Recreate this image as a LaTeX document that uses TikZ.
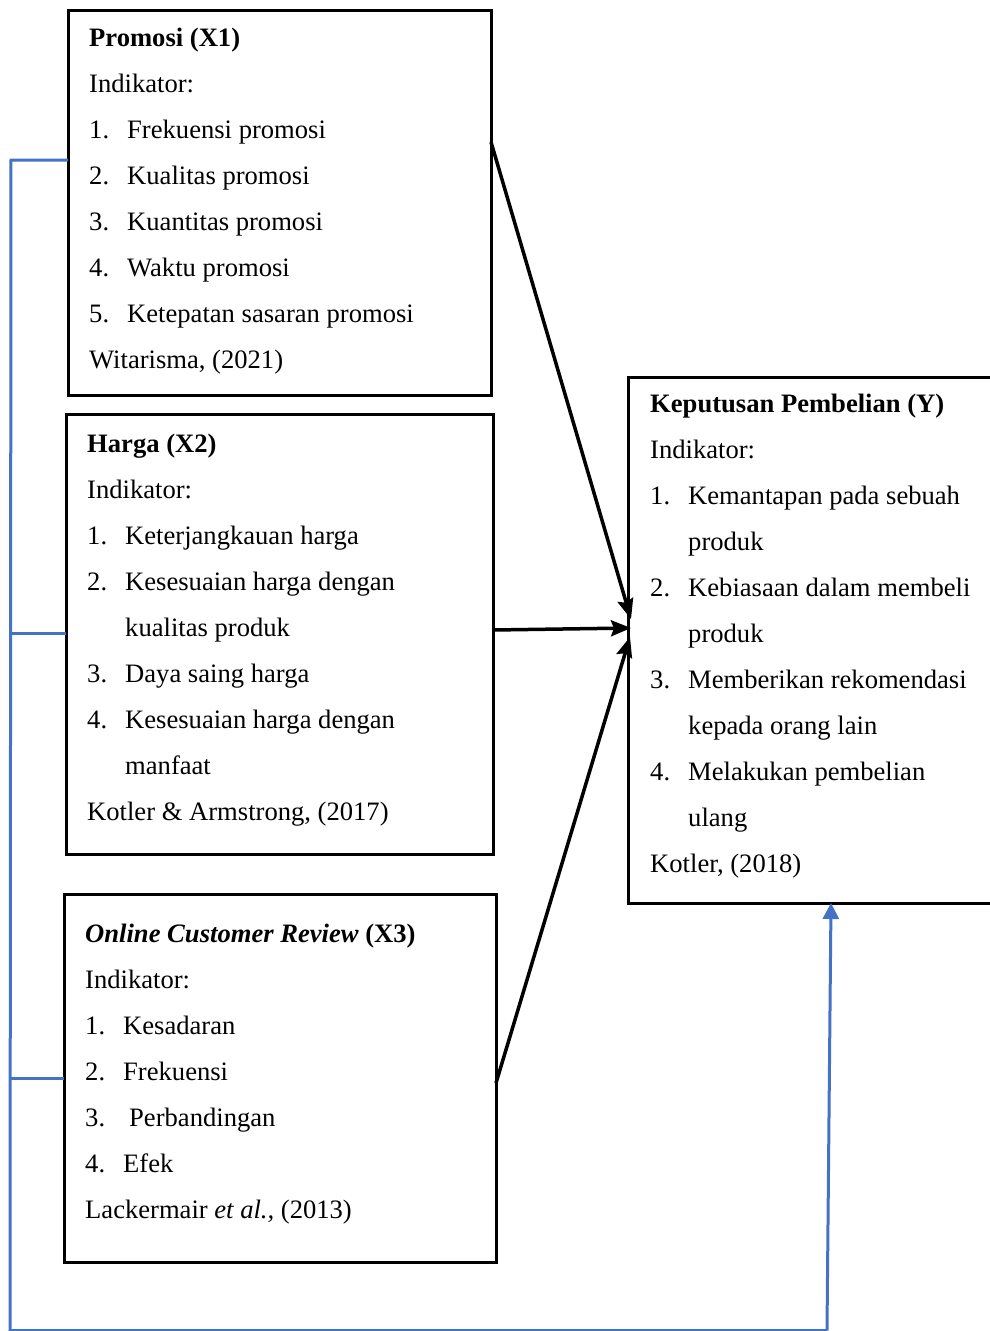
\documentclass[tikz,border=0pt]{standalone}
\usepackage{fontspec}
\setmainfont{Liberation Serif}
\usetikzlibrary{arrows.meta}
\definecolor{lineblue}{HTML}{4472C4}
\tikzset{
  box/.style={draw=black, line width=3pt, rectangle, anchor=north west, inner sep=0pt, outer sep=0pt},
  txt/.style={anchor=base west, inner sep=0pt, font=\fontsize{26.6}{30}\selectfont},
  arr/.style={draw=black, line width=3.5pt, -{Stealth[length=20pt,width=16pt,inset=3pt]}},
  bl/.style={draw=lineblue, line width=3pt},
  blarr/.style={draw=lineblue, line width=3pt, -{Triangle[length=16pt,width=16pt]}},
}
\begin{document}
\begin{tikzpicture}[x=1pt,y=-1pt]
\useasboundingbox (0,0) rectangle (990,1331);
\clip (0,0) rectangle (990,1331);
% boxes
\node[box, minimum width=423pt, minimum height=385pt] (x1) at (68,10) {};
\node[box, minimum width=427pt, minimum height=440pt] (x2) at (66,414) {};
\node[box, minimum width=432pt, minimum height=368pt] (x3) at (64,894) {};
\node[box, minimum width=372pt, minimum height=526pt] (y) at (628,377) {};
% box 1
\node[txt] (x1t1) at (89,46) {\textbf{Promosi (X1)}};
\node[txt] (x1t2) at (89,92) {Indikator:};
\node[txt] (x1n1) at (89,138) {1.};\node[txt] (x1i1) at (127,138) {Frekuensi promosi};
\node[txt] (x1n2) at (89,184) {2.};\node[txt] (x1i2) at (127,184) {Kualitas promosi};
\node[txt] (x1n3) at (89,230) {3.};\node[txt] (x1i3) at (127,230) {Kuantitas promosi};
\node[txt] (x1n4) at (89,276) {4.};\node[txt] (x1i4) at (127,276) {Waktu promosi};
\node[txt] (x1n5) at (89,322) {5.};\node[txt] (x1i5) at (127,322) {Ketepatan sasaran promosi};
\node[txt] (x1s) at (89,368) {Witarisma, (2021)};
% box 2
\node[txt] (x2t1) at (87,452) {\textbf{Harga (X2)}};
\node[txt] (x2t2) at (87,498) {Indikator:};
\node[txt] (x2n1) at (87,544) {1.};\node[txt] (x2i1) at (125,544) {Keterjangkauan harga};
\node[txt] (x2n2) at (87,590) {2.};\node[txt] (x2i2) at (125,590) {Kesesuaian harga dengan};
\node[txt] (x2i2b) at (125,636) {kualitas produk};
\node[txt] (x2n3) at (87,682) {3.};\node[txt] (x2i3) at (125,682) {Daya saing harga};
\node[txt] (x2n4) at (87,728) {4.};\node[txt] (x2i4) at (125,728) {Kesesuaian harga dengan};
\node[txt] (x2i4b) at (125,774) {manfaat};
\node[txt] (x2s) at (87,820) {Kotler \& Armstrong, (2017)};
% box 3
\node[txt] (x3t1) at (85,942) {\textbf{\textit{Online Customer Review} (X3)}};
\node[txt] (x3t2) at (85,988) {Indikator:};
\node[txt] (x3n1) at (85,1034) {1.};\node[txt] (x3i1) at (123,1034) {Kesadaran};
\node[txt] (x3n2) at (85,1080) {2.};\node[txt] (x3i2) at (123,1080) {Frekuensi};
\node[txt] (x3n3) at (85,1126) {3.};\node[txt] (x3i3) at (129,1126) {Perbandingan};
\node[txt] (x3n4) at (85,1172) {4.};\node[txt] (x3i4) at (123,1172) {Efek};
\node[txt] (x3s) at (85,1218) {Lackermair \textit{et al.,} (2013)};
% box Y
\node[txt] (yt1) at (650,412) {\textbf{Keputusan Pembelian (Y)}};
\node[txt] (yt2) at (650,458) {Indikator:};
\node[txt] (yn1) at (650,504) {1.};\node[txt] (yi1) at (688,504) {Kemantapan pada sebuah};
\node[txt] (yi1b) at (688,550) {produk};
\node[txt] (yn2) at (650,596) {2.};\node[txt] (yi2) at (688,596) {Kebiasaan dalam membeli};
\node[txt] (yi2b) at (688,642) {produk};
\node[txt] (yn3) at (650,688) {3.};\node[txt] (yi3) at (688,688) {Memberikan rekomendasi};
\node[txt] (yi3b) at (688,734) {kepada orang lain};
\node[txt] (yn4) at (650,780) {4.};\node[txt] (yi4) at (688,780) {Melakukan pembelian};
\node[txt] (yi4b) at (688,826) {ulang};
\node[txt] (ys) at (650,872) {Kotler, (2018)};
% connector coordinates
\coordinate (a1s) at (x1.north east |- 0,142);
\coordinate (a1e) at (631,619);
\coordinate (a2s) at (x2.north east |- 0,630);
\coordinate (a2e) at (631,628);
\coordinate (a3s) at (x3.north east |- 0,1083);
\coordinate (a3e) at (630,637);
\draw[arr] (a1s) -- (a1e);
\draw[arr] (a2s) -- (a2e);
\draw[arr] (a3s) -- (a3e);
% blue lines
\coordinate (b1) at (11,160);
\coordinate (b2) at (11,633);
\coordinate (b3) at (11,1078);
\coordinate (bl) at (10,1330.5);
\coordinate (br) at (827,1330.5);
\coordinate (yb) at (y.south west -| 831,0);
\draw[bl] (x1.north west |- b1) -- (b1) -- (bl) -- (br);
\draw[bl] (x2.north west |- b2) -- (b2);
\draw[bl] (x3.north west |- b3) -- (b3);
\draw[blarr] (br) -- (yb);
\end{tikzpicture}
\end{document}
